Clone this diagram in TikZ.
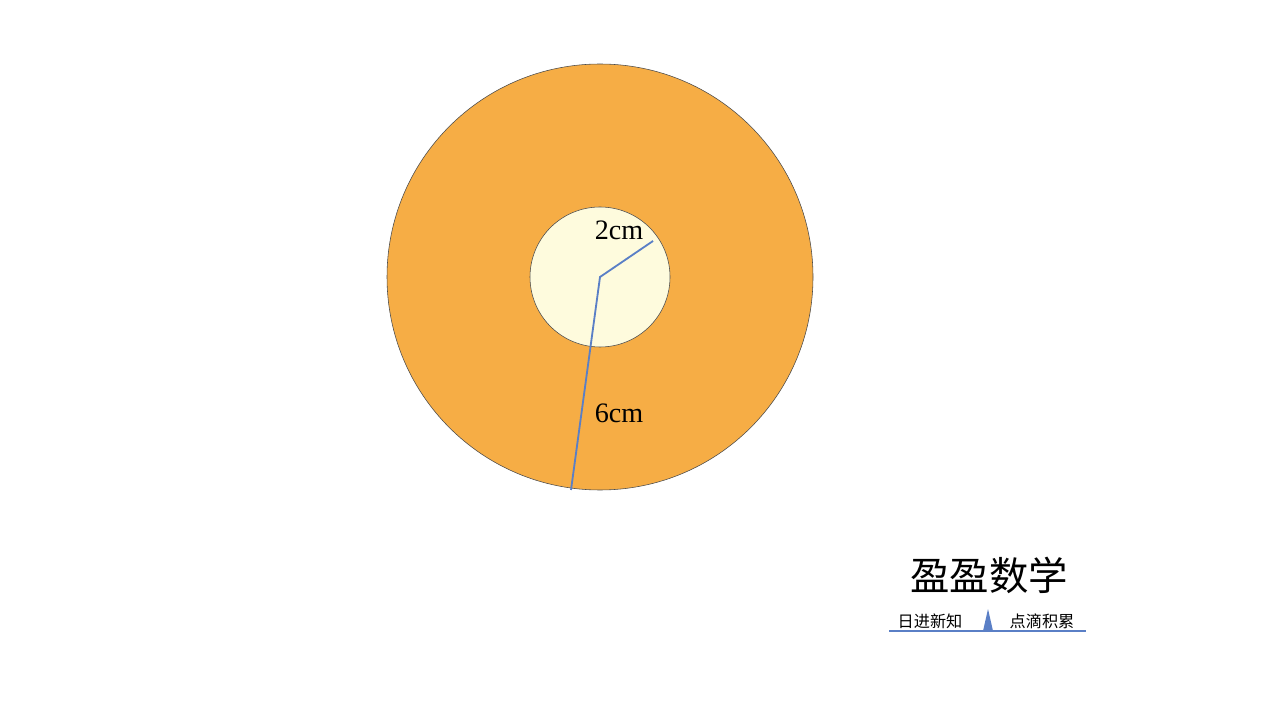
\documentclass[tikz,border=0pt]{standalone}
\usepackage{fontspec}
\newfontfamily\cjk{Noto Sans CJK SC}
\newfontfamily\lblfont{Liberation Serif}
\definecolor{ringorange}{HTML}{F6AD45}
\definecolor{innercream}{HTML}{FEFBDD}
\definecolor{radiusblue}{HTML}{5A7FC6}

\begin{document}
\begin{tikzpicture}[x=0.025cm,y=-0.025cm]
			\useasboundingbox (0,0) rectangle (1280,720);
			\coordinate (O) at (600,277);
			\coordinate (A) at (653,241);
			\coordinate (B) at (571,490);
			\filldraw[fill=ringorange,draw=black!70,line width=0.4pt] (O) circle (213);
			\filldraw[fill=innercream,draw=black!70,line width=0.4pt] (O) circle (70);
			\draw[radiusblue,line width=1.3pt] (A) -- (O) -- (B);
			\node[font=\lblfont\fontsize{20}{24}\selectfont] (r2) at (619,230) {2cm};
			\node[font=\lblfont\fontsize{20}{24}\selectfont] (r6) at (619,413) {6cm};
			% logo
			\node[font=\cjk\fontsize{28}{31}\selectfont] (title) at (989,575) {盈盈数学};
			\node[font=\cjk\fontsize{11.5}{13}\selectfont] (left) at (930,621) {日进新知};
			\node[font=\cjk\fontsize{11.5}{13}\selectfont] (right) at (1042,621) {点滴积累};
			\coordinate (L) at (889,631);
			\coordinate (R) at (1086,631);
			\draw[radiusblue,line width=1.2pt] (L) -- (R);
			\fill[radiusblue] (983,631) -- (988,609) -- (993,631) -- cycle;
		\end{tikzpicture}
\end{document}
